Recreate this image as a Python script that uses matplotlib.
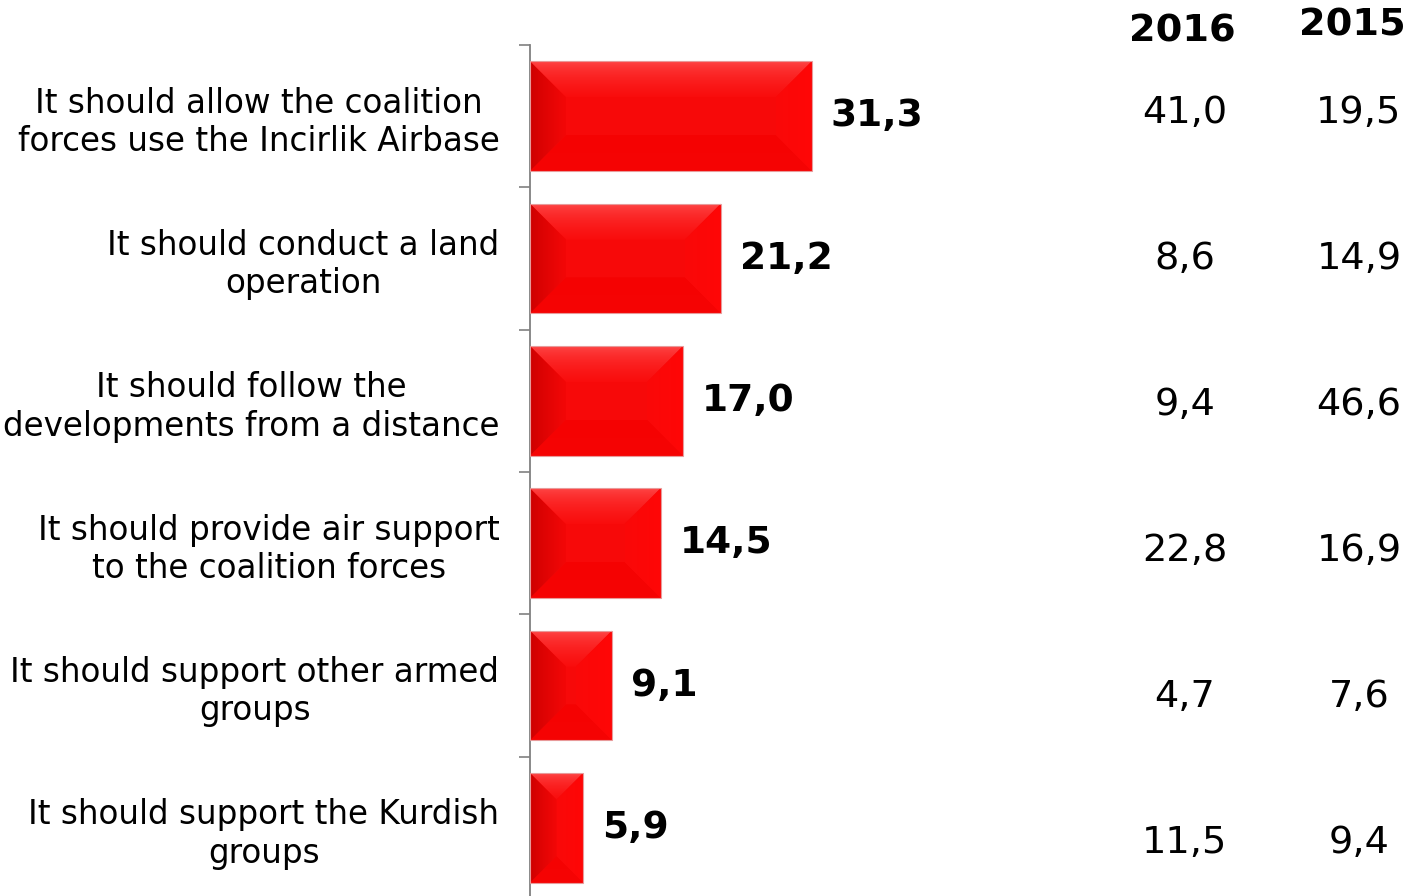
import matplotlib
matplotlib.use('Agg')
import matplotlib.pyplot as plt
import numpy as np
from matplotlib.patches import Polygon, Rectangle
from matplotlib.colors import to_rgb

# ---------------- data ----------------
categories = [
    "It should allow the coalition\nforces use the Incirlik Airbase",
    "It should conduct a land\noperation",
    "It should follow the\ndevelopments from a distance",
    "It should provide air support\nto the coalition forces",
    "It should support other armed\ngroups",
    "It should support the Kurdish\ngroups",
]
values_current = [31.3, 21.2, 17.0, 14.5, 9.1, 5.9]
values_2016 = [41.0, 8.6, 9.4, 22.8, 4.7, 11.5]
values_2015 = [19.5, 14.9, 46.6, 16.9, 7.6, 9.4]
col_headers = ["2016", "2015"]


def fmt(v):
    return f"{v:.1f}".replace(".", ",")


plt.rcParams['font.family'] = ['DejaVu Sans']

W, H = 1406, 896
fig = plt.figure(figsize=(W / 100, H / 100), dpi=100)
fig.patch.set_facecolor('white')

ax_left_px, ax_top_px, ax_bot_px = 530, 45, 899
ax = fig.add_axes([ax_left_px / W, (H - ax_bot_px) / H,
                   (W - ax_left_px) / W, (ax_bot_px - ax_top_px) / H])

ypos = np.arange(len(categories))
px_per_x = 9.0
xmax = (W - ax_left_px) / px_per_x
px_per_y = (ax_bot_px - ax_top_px) / len(categories)

bars = ax.barh(ypos, values_current, height=0.77, color='#F70909', zorder=2,
               linewidth=0)
ax.set_xlim(0, xmax)
ax.set_ylim(len(categories) - 0.5, -0.5)


def grad(c1, c2, n=64, power=1.0):
    a = np.array(to_rgb(c1))
    b = np.array(to_rgb(c2))
    t = np.linspace(0, 1, n)[:, None] ** power
    return a * (1 - t) + b * t


for bar in bars:
    x0, y0 = bar.get_x(), bar.get_y()
    w, h = bar.get_width(), bar.get_height()
    y1 = y0 + h
    bev = min(36.0, w * px_per_x / 2, h * px_per_y / 2)
    bx, by = bev / px_per_x, bev / px_per_y
    faces = {
        'top': ([(x0, y0), (x0 + w, y0), (x0 + w - bx, y0 + by), (x0 + bx, y0 + by)],
                grad('#FF5050', '#F90C0C', power=0.5)[:, None, :], [x0, x0 + w, y0 + by, y0]),
        'bottom': ([(x0, y1), (x0 + w, y1), (x0 + w - bx, y1 - by), (x0 + bx, y1 - by)],
                   grad('#F50202', '#F60404')[:, None, :], [x0, x0 + w, y1, y1 - by]),
        'left': ([(x0, y0), (x0 + bx, y0 + by), (x0 + bx, y1 - by), (x0, y1)],
                 grad('#CC0000', '#F30707', power=0.8)[None, :, :], [x0, x0 + bx, y1, y0]),
        'right': ([(x0 + w, y0), (x0 + w - bx, y0 + by), (x0 + w - bx, y1 - by), (x0 + w, y1)],
                  grad('#FA0909', '#FF0606')[None, :, :], [x0 + w - bx, x0 + w, y1, y0]),
    }
    for name, (pts, img, ext) in faces.items():
        poly = Polygon(pts, closed=True, facecolor='none', edgecolor='none',
                       transform=ax.transData)
        ax.add_patch(poly)
        im = ax.imshow(img, extent=ext, origin='upper', aspect='auto',
                       zorder=3, interpolation='bilinear')
        im.set_clip_path(poly)
    ax.add_patch(Rectangle((x0, y0), w, h, fill=False, edgecolor='#E89A9A',
                           linewidth=0.8, zorder=4))
    ax.text(x0 + w + 19 / px_per_x, y0 + h / 2, fmt(w), va='center', ha='left',
            fontsize=27, fontweight='bold', color='black', zorder=5)

ax.set_xlim(0, xmax)
ax.set_ylim(len(categories) - 0.5, -0.5)

for s in ['top', 'right', 'bottom']:
    ax.spines[s].set_visible(False)
ax.spines['left'].set_color('#808080')
ax.spines['left'].set_linewidth(1.3)
ax.set_xticks([])
ax.set_yticks(ypos)
ax.set_yticklabels(categories, fontsize=23.5)
for lab in ax.get_yticklabels():
    lab.set_multialignment('center')
ax.tick_params(axis='y', which='major', length=0, pad=22)
ax.set_yticks(np.arange(-0.5, len(categories), 1.0), minor=True)
ax.tick_params(axis='y', which='minor', length=8, width=1.2, color='#808080')
ax.patch.set_visible(False)

# right-hand columns
ax2 = fig.add_axes([0, 1 - 843 / H, 1, (843 - 113) / H])
ax2.set_xlim(0, 1)
ax2.set_ylim(len(categories) - 1, 0)
ax2.axis('off')
col_x = [1185 / W, 1359 / W]
for cx, vals in zip(col_x, [values_2016, values_2015]):
    for i, v in enumerate(vals):
        ax2.text(cx, i, fmt(v), ha='center', va='center', fontsize=27.5, color='black')

fig.text(1182 / W, 1 - 31 / H, col_headers[0], ha='center', va='center',
         fontsize=27.5, fontweight='bold')
fig.text(1352 / W, 1 - 25 / H, col_headers[1], ha='center', va='center',
         fontsize=27.5, fontweight='bold')

fig.savefig('out.png', dpi=100, facecolor='white')
